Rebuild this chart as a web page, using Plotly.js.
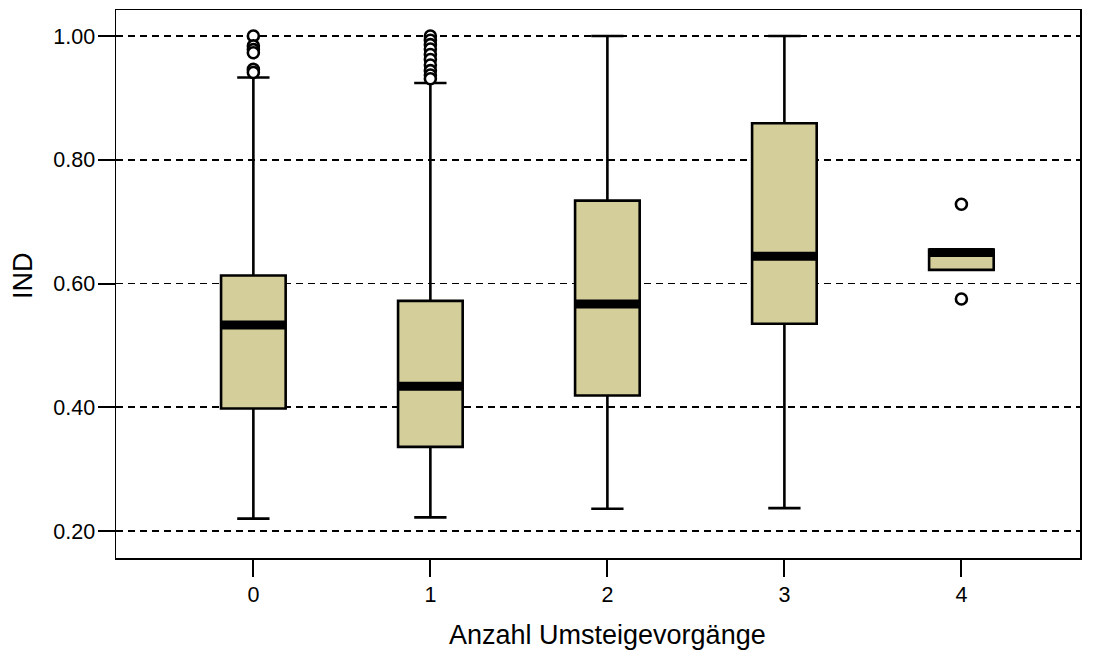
<!DOCTYPE html>
<html>
<head>
<meta charset="utf-8">
<script src="https://cdn.plot.ly/plotly-3.0.1.min.js"></script>
<style>
  html, body { margin: 0; padding: 0; background: #ffffff; }
  #chart { width: 1095px; height: 654px; }
</style>
</head>
<body>
<div id="chart"></div>
<script>
// Number of transfers (Anzahl Umsteigevorgänge) and IND box statistics per group
const transfers   = [0, 1, 2, 3, 4];
const lowerWhisk  = [0.220, 0.222, 0.236, 0.237, 0.622];
const q1Values    = [0.398, 0.336, 0.419, 0.535, 0.622];
const medians     = [0.533, 0.434, 0.567, 0.644, 0.650];
const q3Values    = [0.613, 0.572, 0.734, 0.859, 0.655];
const upperWhisk  = [0.933, 0.924, 1.000, 1.000, 0.655];

// Outliers per group
const outliers0 = [1.000, 0.984, 0.978, 0.973, 0.946, 0.941];
const outliers1 = [1.000, 0.993, 0.986, 0.979, 0.970, 0.962, 0.953, 0.944, 0.937, 0.931];
const outliers2 = [];
const outliers3 = [];
const outliers4 = [0.728, 0.575];
const outlierGroups = [outliers0, outliers1, outliers2, outliers3, outliers4];

const yTicks = [0.2, 0.4, 0.6, 0.8, 1.0];

const BOX_FILL = '#d3ce9a';
const BOX_WIDTH = 0.365;
const FONT = 'Liberation Sans, Arial, sans-serif';

const traces = [];

// Boxes built from the precomputed statistics
traces.push({
  type: 'box',
  x: transfers,
  q1: q1Values,
  median: medians,
  q3: q3Values,
  lowerfence: lowerWhisk,
  upperfence: upperWhisk,
  width: BOX_WIDTH,
  whiskerwidth: 0.5,
  fillcolor: BOX_FILL,
  line: { color: '#000000', width: 2.6 },
  boxpoints: false,
  hoverinfo: 'skip',
  showlegend: false
});

// Thick median bars drawn over each box
const medX = [], medY = [];
transfers.forEach((t, i) => {
  medX.push(t - BOX_WIDTH / 2, t + BOX_WIDTH / 2, null);
  medY.push(medians[i], medians[i], null);
});
traces.push({
  type: 'scatter',
  mode: 'lines',
  x: medX,
  y: medY,
  line: { color: '#000000', width: 9 },
  hoverinfo: 'skip',
  showlegend: false
});

// Outliers as open circles
const outX = [], outY = [];
outlierGroups.forEach((vals, i) => {
  vals.forEach(v => { outX.push(transfers[i]); outY.push(v); });
});
traces.push({
  type: 'scatter',
  mode: 'markers',
  x: outX,
  y: outY,
  marker: {
    symbol: 'circle',
    size: 11,
    color: '#ffffff',
    line: { color: '#000000', width: 2.6 }
  },
  hoverinfo: 'skip',
  showlegend: false
});

const layout = {
  width: 1095,
  height: 654,
  margin: { l: 116, r: 15, t: 10, b: 96 },
  paper_bgcolor: '#ffffff',
  plot_bgcolor: '#ffffff',
  font: { family: FONT, color: '#000000', size: 21.5 },
  showlegend: false,
  xaxis: {
    range: [-0.776, 4.670],
    tickvals: transfers,
    ticktext: transfers.map(String),
    ticks: 'outside',
    ticklen: 17,
    tickwidth: 2,
    tickcolor: '#000000',
    showline: true,
    linecolor: '#000000',
    linewidth: 1.5,
    mirror: true,
    showgrid: false,
    zeroline: false,
    tickfont: { family: FONT, size: 21.5, color: '#000000' }
  },
  yaxis: {
    range: [0.1564, 1.042],
    tickvals: yTicks,
    tickformat: '.2f',
    ticks: 'outside',
    ticklen: 17,
    tickwidth: 2,
    tickcolor: '#000000',
    ticklabelstandoff: -2,
    showline: true,
    linecolor: '#000000',
    linewidth: 1.5,
    mirror: true,
    showgrid: true,
    gridcolor: '#000000',
    gridwidth: 1.8,
    griddash: '7px,5px',
    zeroline: false,
    tickfont: { family: FONT, size: 21.5, color: '#000000' }
  },
  annotations: [
    {
      text: 'Anzahl Umsteigevorgänge',
      xref: 'x', yref: 'paper',
      x: 2, y: 0,
      yshift: -77,
      xanchor: 'center', yanchor: 'middle',
      showarrow: false,
      font: { family: FONT, size: 27, color: '#000000' }
    },
    {
      text: 'IND',
      xref: 'paper', yref: 'paper',
      x: 0, y: 0.5,
      xshift: -93,
      yshift: 8,
      textangle: -90,
      xanchor: 'center', yanchor: 'middle',
      showarrow: false,
      font: { family: FONT, size: 27, color: '#000000' }
    }
  ]
};

Plotly.newPlot('chart', traces, layout, { displayModeBar: false, staticPlot: true });
</script>
</body>
</html>
